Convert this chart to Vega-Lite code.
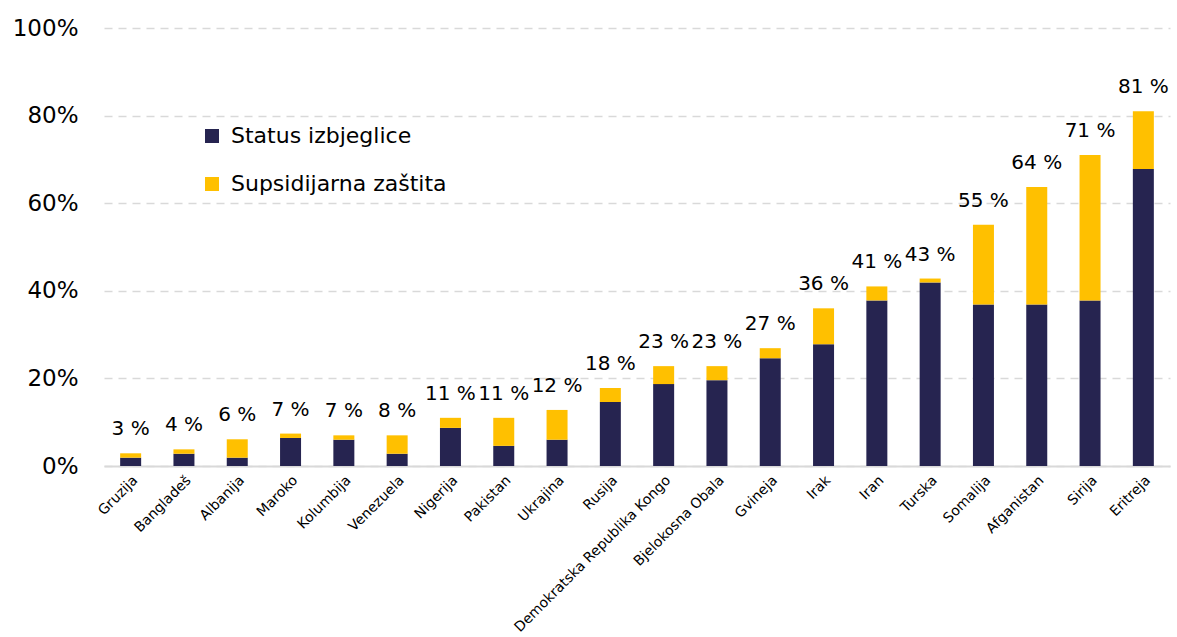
{
  "$schema": "https://vega.github.io/schema/vega-lite/v6.json",
  "width": 1066,
  "height": 438,
  "autosize": {"type": "none"},
  "padding": {"left": 104, "top": 28, "right": 7, "bottom": 171},
  "background": "white",
  "config": {
    "font": "DejaVu Sans",
    "view": {"stroke": null}
  },
  "datasets": {
    "udjeli": [
      {"drzava": "Gruzija", "zastita": "Status izbjeglice", "vrijednost": 1.9},
      {"drzava": "Gruzija", "zastita": "Supsidijarna zaštita", "vrijednost": 1.0},
      {"drzava": "Bangladeš", "zastita": "Status izbjeglice", "vrijednost": 2.8},
      {"drzava": "Bangladeš", "zastita": "Supsidijarna zaštita", "vrijednost": 1.0},
      {"drzava": "Albanija", "zastita": "Status izbjeglice", "vrijednost": 1.9},
      {"drzava": "Albanija", "zastita": "Supsidijarna zaštita", "vrijednost": 4.2},
      {"drzava": "Maroko", "zastita": "Status izbjeglice", "vrijednost": 6.4},
      {"drzava": "Maroko", "zastita": "Supsidijarna zaštita", "vrijednost": 1.0},
      {"drzava": "Kolumbija", "zastita": "Status izbjeglice", "vrijednost": 6.0},
      {"drzava": "Kolumbija", "zastita": "Supsidijarna zaštita", "vrijednost": 1.0},
      {"drzava": "Venezuela", "zastita": "Status izbjeglice", "vrijednost": 2.8},
      {"drzava": "Venezuela", "zastita": "Supsidijarna zaštita", "vrijednost": 4.2},
      {"drzava": "Nigerija", "zastita": "Status izbjeglice", "vrijednost": 8.7},
      {"drzava": "Nigerija", "zastita": "Supsidijarna zaštita", "vrijednost": 2.3},
      {"drzava": "Pakistan", "zastita": "Status izbjeglice", "vrijednost": 4.6},
      {"drzava": "Pakistan", "zastita": "Supsidijarna zaštita", "vrijednost": 6.4},
      {"drzava": "Ukrajina", "zastita": "Status izbjeglice", "vrijednost": 6.0},
      {"drzava": "Ukrajina", "zastita": "Supsidijarna zaštita", "vrijednost": 6.8},
      {"drzava": "Rusija", "zastita": "Status izbjeglice", "vrijednost": 14.6},
      {"drzava": "Rusija", "zastita": "Supsidijarna zaštita", "vrijednost": 3.2},
      {"drzava": "Demokratska Republika Kongo", "zastita": "Status izbjeglice", "vrijednost": 18.7},
      {"drzava": "Demokratska Republika Kongo", "zastita": "Supsidijarna zaštita", "vrijednost": 4.1},
      {"drzava": "Bjelokosna Obala", "zastita": "Status izbjeglice", "vrijednost": 19.6},
      {"drzava": "Bjelokosna Obala", "zastita": "Supsidijarna zaštita", "vrijednost": 3.2},
      {"drzava": "Gvineja", "zastita": "Status izbjeglice", "vrijednost": 24.6},
      {"drzava": "Gvineja", "zastita": "Supsidijarna zaštita", "vrijednost": 2.3},
      {"drzava": "Irak", "zastita": "Status izbjeglice", "vrijednost": 27.8},
      {"drzava": "Irak", "zastita": "Supsidijarna zaštita", "vrijednost": 8.2},
      {"drzava": "Iran", "zastita": "Status izbjeglice", "vrijednost": 37.8},
      {"drzava": "Iran", "zastita": "Supsidijarna zaštita", "vrijednost": 3.2},
      {"drzava": "Turska", "zastita": "Status izbjeglice", "vrijednost": 41.9},
      {"drzava": "Turska", "zastita": "Supsidijarna zaštita", "vrijednost": 0.9},
      {"drzava": "Somalija", "zastita": "Status izbjeglice", "vrijednost": 36.9},
      {"drzava": "Somalija", "zastita": "Supsidijarna zaštita", "vrijednost": 18.2},
      {"drzava": "Afganistan", "zastita": "Status izbjeglice", "vrijednost": 36.9},
      {"drzava": "Afganistan", "zastita": "Supsidijarna zaštita", "vrijednost": 26.8},
      {"drzava": "Sirija", "zastita": "Status izbjeglice", "vrijednost": 37.8},
      {"drzava": "Sirija", "zastita": "Supsidijarna zaštita", "vrijednost": 33.2},
      {"drzava": "Eritreja", "zastita": "Status izbjeglice", "vrijednost": 67.8},
      {"drzava": "Eritreja", "zastita": "Supsidijarna zaštita", "vrijednost": 13.2}
    ],
    "oznake": [
      {"drzava": "Gruzija", "ukupno": 2.9, "oznaka": "3 %"},
      {"drzava": "Bangladeš", "ukupno": 3.8, "oznaka": "4 %"},
      {"drzava": "Albanija", "ukupno": 6.1, "oznaka": "6 %"},
      {"drzava": "Maroko", "ukupno": 7.4, "oznaka": "7 %"},
      {"drzava": "Kolumbija", "ukupno": 7.0, "oznaka": "7 %"},
      {"drzava": "Venezuela", "ukupno": 7.0, "oznaka": "8 %"},
      {"drzava": "Nigerija", "ukupno": 11.0, "oznaka": "11 %"},
      {"drzava": "Pakistan", "ukupno": 11.0, "oznaka": "11 %"},
      {"drzava": "Ukrajina", "ukupno": 12.8, "oznaka": "12 %"},
      {"drzava": "Rusija", "ukupno": 17.8, "oznaka": "18 %"},
      {"drzava": "Demokratska Republika Kongo", "ukupno": 22.8, "oznaka": "23 %"},
      {"drzava": "Bjelokosna Obala", "ukupno": 22.8, "oznaka": "23 %"},
      {"drzava": "Gvineja", "ukupno": 26.9, "oznaka": "27 %"},
      {"drzava": "Irak", "ukupno": 36.0, "oznaka": "36 %"},
      {"drzava": "Iran", "ukupno": 41.0, "oznaka": "41 %"},
      {"drzava": "Turska", "ukupno": 42.8, "oznaka": "43 %"},
      {"drzava": "Somalija", "ukupno": 55.1, "oznaka": "55 %"},
      {"drzava": "Afganistan", "ukupno": 63.7, "oznaka": "64 %"},
      {"drzava": "Sirija", "ukupno": 71.0, "oznaka": "71 %"},
      {"drzava": "Eritreja", "ukupno": 81.0, "oznaka": "81 %"}
    ]
  },
  "layer": [
    {
      "data": {"name": "udjeli"},
      "mark": {"type": "bar"},
      "encoding": {
        "x": {
          "field": "drzava",
          "type": "nominal",
          "scale": {
            "domain": ["Gruzija", "Bangladeš", "Albanija", "Maroko", "Kolumbija", "Venezuela", "Nigerija", "Pakistan", "Ukrajina", "Rusija", "Demokratska Republika Kongo", "Bjelokosna Obala", "Gvineja", "Irak", "Iran", "Turska", "Somalija", "Afganistan", "Sirija", "Eritreja"],
            "paddingInner": 0.606,
            "paddingOuter": 0.303
          },
          "axis": {
            "title": null,
            "labelAngle": -45,
            "labelAlign": "right",
            "labelBaseline": "top",
            "labelFontSize": 14,
            "labelColor": "#000000",
            "labelPadding": 7,
            "labelLimit": 0,
            "labelOverlap": false,
            "ticks": false,
            "domainColor": "#D9D9D9",
            "domainWidth": 2
          }
        },
        "y": {
          "field": "vrijednost",
          "type": "quantitative",
          "stack": "zero",
          "scale": {"domain": [0, 100]},
          "axis": {
            "title": null,
            "values": [0, 20, 40, 60, 80, 100],
            "labelExpr": "datum.value + '%'",
            "labelFontSize": 23,
            "labelColor": "#000000",
            "labelPadding": 26,
            "ticks": false,
            "domain": false,
            "gridColor": "#D9D9D9",
            "gridDash": [8, 6],
            "gridWidth": 1.5
          }
        },
        "color": {
          "field": "zastita",
          "type": "nominal",
          "scale": {
            "domain": ["Status izbjeglice", "Supsidijarna zaštita"],
            "range": ["#262450", "#FFC000"]
          },
          "legend": {
            "orient": "none",
            "legendX": 97,
            "legendY": 97,
            "title": null,
            "direction": "vertical",
            "symbolType": "square",
            "symbolSize": 196,
            "symbolOpacity": 1,
            "symbolStrokeWidth": 0,
            "labelFontSize": 22,
            "labelColor": "#000000",
            "labelLimit": 0,
            "labelOffset": 8,
            "rowPadding": 26,
            "padding": 0
          }
        },
        "order": {"field": "zastita", "sort": "ascending"}
      }
    },
    {
      "data": {"name": "oznake"},
      "mark": {"type": "text", "baseline": "alphabetic", "dy": -18, "fontSize": 20, "color": "#000000"},
      "encoding": {
        "x": {"field": "drzava", "type": "nominal"},
        "y": {"field": "ukupno", "type": "quantitative"},
        "text": {"field": "oznaka"}
      }
    }
  ]
}
